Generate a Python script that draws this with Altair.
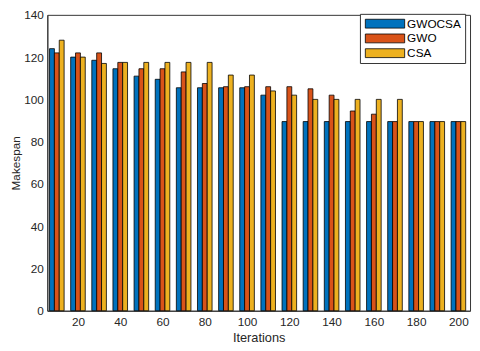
import altair as alt
import pandas as pd

iterations = [10, 20, 30, 40, 50, 60, 70, 80, 90, 100, 110, 120, 130, 140, 150, 160, 170, 180, 190, 200]
gwocsa = [124, 120, 118.5, 114.5, 111, 109.5, 105.5, 105.5, 105.5, 105.5, 102, 89.5, 89.5, 89.5, 89.5, 89.5, 89.5, 89.5, 89.5, 89.5]
gwo = [122, 122, 122, 117.5, 114.5, 114.5, 113, 107.5, 106, 106, 106, 106, 105, 102, 94.5, 93, 89.5, 89.5, 89.5, 89.5]
csa = [128, 120, 117, 117.5, 117.5, 117.5, 117.5, 117.5, 111.5, 111.5, 104, 102, 100, 100, 100, 100, 100, 89.5, 89.5, 89.5]
series = ["GWOCSA", "GWO", "CSA"]
colors = ["#0072BD", "#D95319", "#EDB120"]

rows = []
for name, idx, vals in [("GWOCSA", 0, gwocsa), ("GWO", 1, gwo), ("CSA", 2, csa)]:
    for it, v in zip(iterations, vals):
        rows.append({"Iterations": it, "Makespan": v, "Algorithm": name, "idx": idx})
df = pd.DataFrame(rows)

w = 2.3
font = "Liberation Sans"

chart = alt.Chart(df).transform_calculate(
    x1=f"datum.Iterations + (datum.idx - 1.5) * {w}",
    x2=f"datum.Iterations + (datum.idx - 0.5) * {w}",
).mark_bar(stroke="black", strokeWidth=0.8, opacity=1).encode(
    x=alt.X("x1:Q", title="Iterations",
            scale=alt.Scale(domain=[5.5, 205.5], nice=False, zero=False),
            axis=alt.Axis(values=list(range(20, 201, 20)), grid=False, tickSize=0,
                          labelFont=font, labelFontSize=12, labelColor="#262626",
                          titleFont=font, titleFontSize=13, titleFontWeight="normal",
                          titleColor="#262626", labelPadding=6, titlePadding=4,
                          domainColor="#333333")),
    x2="x2:Q",
    y=alt.Y("Makespan:Q", title="Makespan",
            scale=alt.Scale(domain=[0, 140], nice=False),
            axis=alt.Axis(values=list(range(0, 141, 20)), grid=False, tickSize=0,
                          labelFont=font, labelFontSize=12, labelColor="#262626",
                          titleFont=font, titleFontSize=12, titleFontWeight="normal",
                          titleColor="#262626", labelPadding=4, titlePadding=1,
                          domainColor="#333333")),
    y2=alt.datum(0),
    color=alt.Color("Algorithm:N", sort=series,
                    scale=alt.Scale(domain=series, range=colors),
                    legend=alt.Legend(title=None, orient="none", legendX=318, legendY=-1,
                                      symbolType="M-2,-0.45H2V0.45H-2Z",
                                      symbolSize=400, symbolStrokeColor="black",
                                      symbolStrokeWidth=0.8, symbolOpacity=1,
                                      labelFont=font, labelFontSize=12, labelColor="black",
                                      fillColor="white", strokeColor="#333333",
                                      padding=4, rowPadding=3, clipHeight=12,
                                      symbolOffset=11, labelOffset=12)),
).properties(
    width=430, height=301,
    autosize=alt.AutoSizeParams(type="none"),
    padding={"left": 40, "top": 4, "right": 2, "bottom": 38},
).configure_view(stroke="#333333", strokeWidth=1)

chart.save("out.html", embed_options={"renderer": "svg", "actions": False})
